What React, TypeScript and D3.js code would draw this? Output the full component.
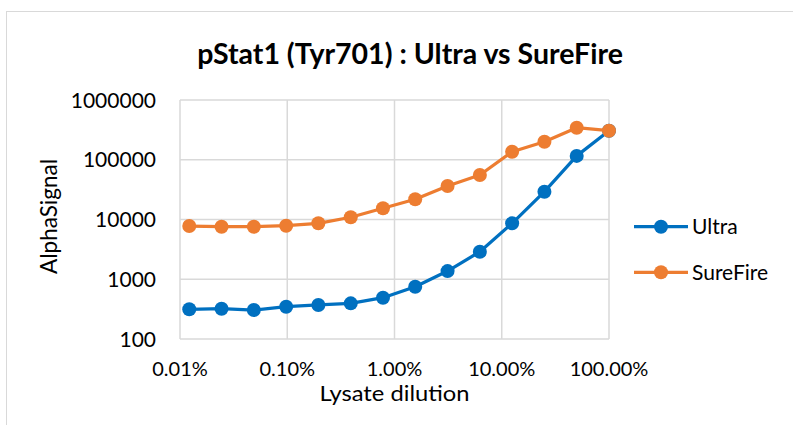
import * as d3 from 'd3';

// Lysate dilution (fraction) – 2-fold serial dilutions
const dilutions = [
  0.000122, 0.000244, 0.000488, 0.000977, 0.00195, 0.00391, 0.00781,
  0.0156, 0.03125, 0.0625, 0.125, 0.25, 0.5, 1,
];
const ultra = [314, 321, 305, 347, 371, 395, 491, 750, 1370, 2890, 8630, 29200, 116000, 306000];
const sureFire = [7780, 7570, 7570, 7870, 8630, 10900, 15400, 21800, 36400, 55600, 136000, 200000, 344000, 306000];
const xTicks = [0.0001, 0.001, 0.01, 0.1, 1];
const yTicks = [100, 1000, 10000, 100000, 1000000];

const series = [
  { name: 'Ultra', values: ultra, color: '#0070C0' },
  { name: 'SureFire', values: sureFire, color: '#ED7D31' },
];

const W = 793;
const H = 425;
const FONT = 'Lato, "Open Sans", sans-serif';
const GRID = '#d9d9d9';

export default function App() {
  const x = d3.scaleLog().domain([0.0001, 1]).range([180, 609]);
  const y = d3.scaleLog().domain([100, 1000000]).range([339, 100]);
  const fmtX = d3.format('.2%');

  const line = d3.line<[number, number]>()
    .x(d => x(d[0]))
    .y(d => y(d[1]));

  return (
    <svg width={W} height={H} style={{ position: 'absolute', left: 0, top: 0, background: '#fff' }}
      fontFamily={FONT}>
      {/* chart area border */}
      <rect x={6.5} y={11.5} width={820} height={440} fill="#fff" stroke={GRID} strokeWidth={1} />

      <text x={410} y={63.5} textAnchor="middle" fontSize={28.5} fontWeight="bold" fill="#000">
        pStat1 (Tyr701) : Ultra vs SureFire
      </text>

      {/* grid */}
      {yTicks.map(t => (
        <line key={'gy' + t} x1={x.range()[0]} x2={x.range()[1]} y1={y(t)} y2={y(t)} stroke={GRID} strokeWidth={1.5} />
      ))}
      {xTicks.map(t => (
        <line key={'gx' + t} x1={x(t)} x2={x(t)} y1={y.range()[0]} y2={y.range()[1]} stroke={GRID} strokeWidth={1.5} />
      ))}

      {/* tick labels */}
      {yTicks.map(t => (
        <text key={'ty' + t} x={156} y={y(t)} dy="0.36em" textAnchor="end" fontSize={21} fill="#000">
          {String(t)}
        </text>
      ))}
      {xTicks.map(t => (
        <text key={'tx' + t} x={x(t)} y={375.5} textAnchor="middle" fontSize={20} fill="#000">
          {fmtX(t)}
        </text>
      ))}

      {/* axis titles */}
      <text x={394.5} y={401} textAnchor="middle" fontSize={21} textLength={150} lengthAdjust="spacingAndGlyphs" fill="#000">
        Lysate dilution
      </text>
      <text transform="translate(57,216.5) rotate(-90)" textAnchor="middle" fontSize={22.5} fill="#000">AlphaSignal</text>

      {/* series */}
      {series.map(s => {
        const pts = dilutions.map((d, i) => [d, s.values[i]] as [number, number]);
        return (
          <g key={s.name}>
            <path d={line(pts) ?? ''} fill="none" stroke={s.color} strokeWidth={3.25} strokeLinejoin="round" />
            {pts.map((p, i) => (
              <circle key={i} cx={x(p[0])} cy={y(p[1])} r={7} fill={s.color} />
            ))}
          </g>
        );
      })}

      {/* legend */}
      {series.map((s, i) => {
        const ly = 226.7 + i * 45.6;
        return (
          <g key={'lg' + s.name}>
            <line x1={634} x2={688} y1={ly} y2={ly} stroke={s.color} strokeWidth={3.25} />
            <circle cx={661} cy={ly} r={7} fill={s.color} />
            <text x={692} y={ly} dy="0.36em" fontSize={21} fill="#000">{s.name}</text>
          </g>
        );
      })}
    </svg>
  );
}
